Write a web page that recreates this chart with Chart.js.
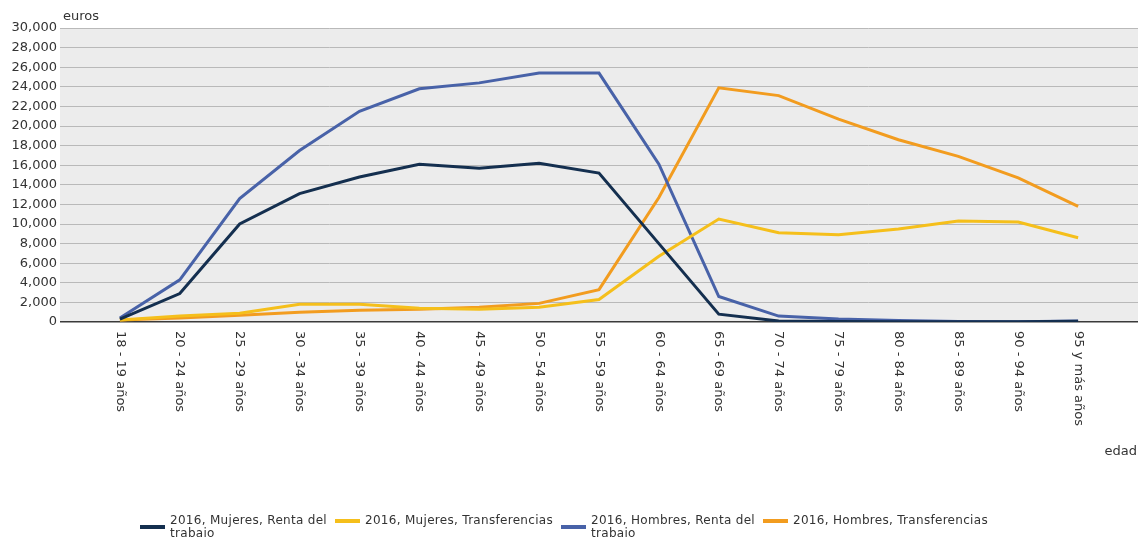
<!DOCTYPE html>
<html>
<head>
<meta charset="utf-8">
<script src="https://cdn.jsdelivr.net/npm/chart.js@4.4.1/dist/chart.umd.min.js"></script>
<style>
  html, body { margin: 0; padding: 0; background: #fff; }
  #wrap { position: relative; width: 1139px; height: 537px; }
  #legend {
    position: absolute; left: 140px; top: 514px;
    display: flex; align-items: flex-start;
    font: 12px "DejaVu Sans", Verdana, sans-serif; letter-spacing: 0.3px;
    line-height: 13px; color: #333;
  }
  .item { display: flex; align-items: center; margin-right: 8px; }
  .sw { width: 25px; height: 4px; margin-right: 5px; }
  .txt { white-space: nowrap; }
</style>
</head>
<body>
<div id="wrap">
  <canvas id="chart" width="1139" height="537"></canvas>
  <div id="legend"></div>
</div>
<script>
const ageGroups = ['18 - 19 años', '20 - 24 años', '25 - 29 años', '30 - 34 años', '35 - 39 años', '40 - 44 años',
  '45 - 49 años', '50 - 54 años', '55 - 59 años', '60 - 64 años', '65 - 69 años', '70 - 74 años',
  '75 - 79 años', '80 - 84 años', '85 - 89 años', '90 - 94 años', '95 y más años']

const mujeresRenta = [300, 2900, 10000, 13100, 14800, 16100, 15700, 16200, 15200, 8000, 800, 100, 50, 30, 20, 20, 80]
const mujeresTransf = [200, 600, 900, 1800, 1800, 1400, 1300, 1500, 2300, 6700, 10500, 9100, 8900, 9500, 10300, 10200, 8600]
const hombresRenta = [400, 4300, 12600, 17500, 21500, 23800, 24400, 25400, 25400, 16100, 2600, 600, 300, 150, 50, 30, 100]
const hombresTransf = [200, 400, 700, 1000, 1200, 1300, 1500, 1900, 3300, 12700, 23900, 23100, 20700, 18600, 16900, 14700, 11800]

const legendLines = [
  ['2016, Mujeres, Renta del', 'trabajo'],
  ['2016, Mujeres, Transferencias'],
  ['2016, Hombres, Renta del', 'trabajo'],
  ['2016, Hombres, Transferencias']
]
const colors = ['#142f4f', '#f5bf1b', '#4862a8', '#f29c1f']
const series = [mujeresRenta, mujeresTransf, hombresRenta, hombresTransf]

const FONT = '"DejaVu Sans", Verdana, sans-serif'

const plotBg = {
  id: 'plotBg',
  beforeDraw(chart) {
    const { ctx, chartArea: a } = chart
    ctx.save()
    ctx.fillStyle = '#ececec'
    ctx.fillRect(a.left, a.top, a.right - a.left, a.bottom - a.top)
    ctx.restore()
  }
}

const axisText = {
  id: 'axisText',
  afterDraw(chart) {
    const { ctx, chartArea: a } = chart
    const x = chart.scales.x
    ctx.save()
    ctx.fillStyle = '#333'
    ctx.font = '13px ' + FONT
    ctx.textBaseline = 'middle'
    ageGroups.forEach((lab, i) => {
      ctx.save()
      ctx.translate(x.getPixelForValue(i), a.bottom + 9)
      ctx.rotate(Math.PI / 2)
      ctx.textAlign = 'left'
      ctx.fillText(lab, 0, 0)
      ctx.restore()
    })
    ctx.textAlign = 'left'
    ctx.fillText('euros', a.left + 3, 17)
    ctx.textAlign = 'right'
    ctx.fillText('edad', 1137, 452)
    ctx.restore()
  }
}

const chart = new Chart(document.getElementById('chart'), {
  type: 'line',
  data: {
    datasets: series.map((s, i) => ({
      label: legendLines[i].join(' '),
      data: s.map((v, j) => ({ x: j, y: v })),
      borderColor: colors[i],
      backgroundColor: colors[i],
      borderWidth: 3,
      pointRadius: 0,
      tension: 0,
      fill: false
    }))
  },
  options: {
    responsive: false,
    animation: false,
    layout: { padding: { top: 28, right: 1, left: 0, bottom: 0 } },
    plugins: {
      legend: { display: false },
      tooltip: { enabled: false }
    },
    scales: {
      x: {
        type: 'linear',
        min: -1,
        max: 17,
        ticks: { display: false, stepSize: 1 },
        grid: { display: false },
        border: { display: false },
        afterFit: s => { s.height = 215 }
      },
      y: {
        min: 0,
        max: 30000,
        ticks: {
          stepSize: 2000,
          color: '#333',
          font: { family: FONT, size: 13 },
          padding: 3,
          callback: v => v.toLocaleString('en-US')
        },
        grid: {
          drawTicks: false,
          color: c => c.tick.value === 0 ? '#3a3a3a' : '#b9b9b9',
          lineWidth: c => c.tick.value === 0 ? 1.5 : 1
        },
        border: { display: false },
        afterFit: s => { s.width = 60 }
      }
    }
  },
  plugins: [plotBg, axisText]
})

// html legend built from the datasets
const legend = document.getElementById('legend')
chart.data.datasets.forEach((ds, i) => {
  const item = document.createElement('div')
  item.className = 'item'
  item.innerHTML = `<span class="sw" style="background:${ds.borderColor}"></span><span class="txt">${legendLines[i].join('<br>')}</span>`
  legend.appendChild(item)
})
</script>
</body>
</html>
